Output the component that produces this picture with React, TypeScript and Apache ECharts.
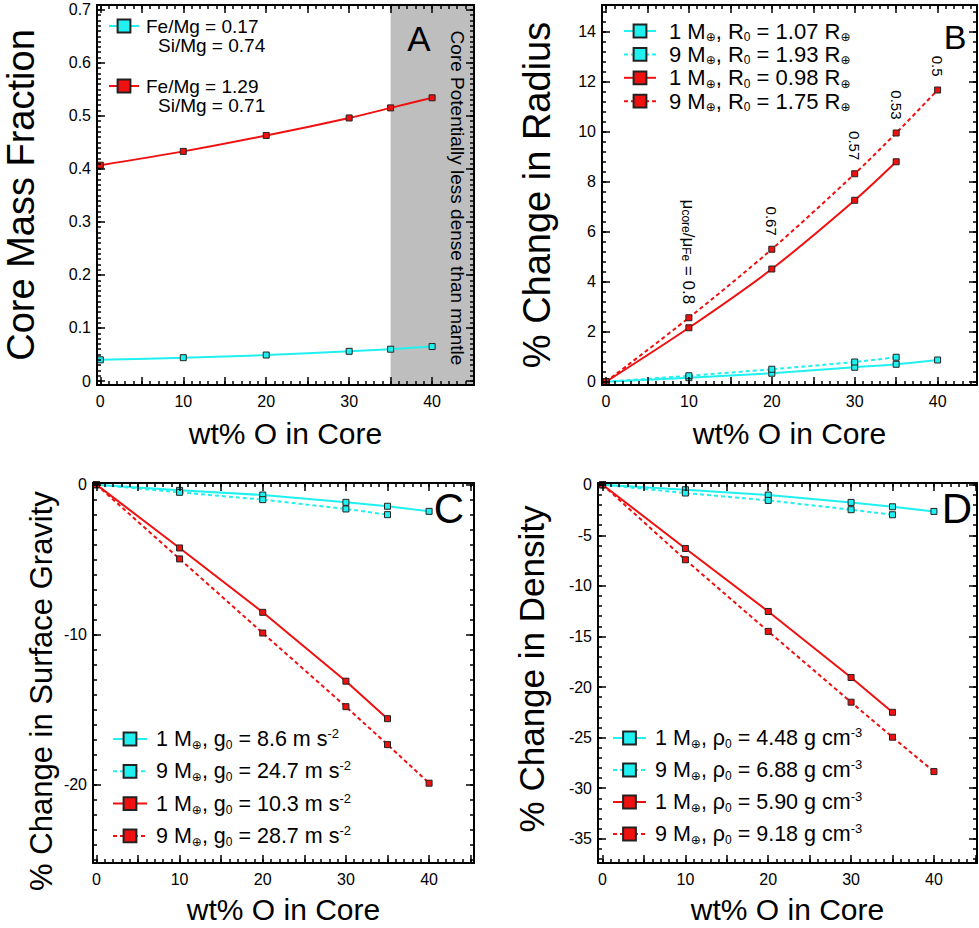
import React, { useEffect, useRef } from 'react';
import * as echarts from 'echarts';

const FONT = '"Liberation Sans", Arial, Helvetica, "DejaVu Sans", sans-serif';
const CYAN = '#20f0f0';
const RED = '#f01010';

// ---------- Panel A: core mass fraction ----------
const xA = [0, 10, 20, 30, 35, 40];
const aLowFe = [0.04, 0.044, 0.049, 0.056, 0.06, 0.065];
const aHighFe = [0.407, 0.433, 0.463, 0.496, 0.515, 0.534];
const aFeMg = ['0.17', '1.29'];
const aSiMg = ['0.74', '0.71'];
const aShadeStart = 35;
const aShadeText = 'Core Potentially less dense than mantle';
const aYLabels = [0, 0.1, 0.2, 0.3, 0.4, 0.5, 0.6, 0.7];
const xLabels = [0, 10, 20, 30, 40];

// ---------- Panel B: % change in radius ----------
const xLong = [0, 10, 20, 30, 35, 40];
const xShort = [0, 10, 20, 30, 35];
const bCyan1 = [0, 0.16, 0.34, 0.58, 0.7, 0.87];
const bCyan9 = [0, 0.24, 0.5, 0.79, 0.98];
const bRed1 = [0, 2.16, 4.51, 7.26, 8.8];
const bRed9 = [0, 2.56, 5.3, 8.32, 9.95, 11.67];
const bRatioLabels = ['', '{m|μ}{s|core}{m|/μ}{s|Fe}{m| = 0.8}', '0.67', '0.57', '0.53', '0.5'];
const bMass = ['1', '9', '1', '9'];
const bR0 = ['1.07', '1.93', '0.98', '1.75'];
const bYLabels = [0, 2, 4, 6, 8, 10, 12, 14];

// ---------- Panel C: % change in surface gravity ----------
const cCyan1 = [0, -0.38, -0.69, -1.18, -1.44, -1.78];
const cCyan9 = [0, -0.51, -1.0, -1.62, -2.0];
const cRed1 = [0, -4.22, -8.51, -13.1, -15.6];
const cRed9 = [0, -4.95, -9.89, -14.8, -17.33, -19.9];
const cG0 = ['8.6', '24.7', '10.3', '28.7'];
const cYLabels = [0, -10, -20];

// ---------- Panel D: % change in density ----------
const dCyan1 = [0, -0.49, -1.02, -1.75, -2.18, -2.64];
const dCyan9 = [0, -0.82, -1.55, -2.47, -2.97];
const dRed1 = [0, -6.3, -12.53, -19.06, -22.5];
const dRed9 = [0, -7.42, -14.5, -21.5, -24.96, -28.36];
const dRho0 = ['4.48', '6.88', '5.90', '9.18'];
const dYLabels = [0, -5, -10, -15, -20, -25, -30, -35];

function steps(a: number, b: number, s: number): number[] {
  const out: number[] = [];
  const n = Math.floor((b - a) / s + 1e-9);
  for (let i = 0; i <= n; i++) out.push(Math.round((a + i * s) * 1e4) / 1e4);
  return out;
}

function buildAxes(
  dim: 'x' | 'y',
  gridIndex: number,
  min: number,
  max: number,
  labelVals: number[],
  majorVals: number[],
  minorVals: number[],
  fmt: (v: number) => string,
  name: string,
  nameGap: number,
  nameFont: number,
  namePadding: number[] = [0, 0, 0, 0]
) {
  const base: any = {
    type: 'value',
    gridIndex,
    min,
    max,
    splitLine: { show: false },
    z: 10,
    silent: true,
  };
  const posA = dim === 'x' ? 'bottom' : 'left';
  const posB = dim === 'x' ? 'top' : 'right';
  const line = { show: true, onZero: false, lineStyle: { color: '#000', width: 2 } };
  const noLine = { show: false, onZero: false };
  const tick = (vals: number[], len: number) => ({
    show: true,
    inside: true,
    length: len,
    lineStyle: { color: '#000', width: 1.5 },
    customValues: vals,
  });
  return [
    {
      ...base,
      position: posA,
      axisLine: line,
      axisTick: tick(majorVals, 8),
      axisLabel: {
        show: true,
        customValues: labelVals,
        formatter: fmt,
        fontSize: 16,
        color: '#000',
        fontFamily: FONT,
        margin: dim === 'x' ? 8 : 6,
      },
      name,
      nameLocation: 'middle',
      nameGap,
      nameTextStyle: { fontSize: nameFont, fontFamily: FONT, color: '#000', padding: namePadding },
    },
    { ...base, position: posB, axisLine: line, axisTick: tick(majorVals, 8), axisLabel: { show: false } },
    { ...base, position: posA, axisLine: noLine, axisTick: tick(minorVals, 4), axisLabel: { show: false } },
    { ...base, position: posB, axisLine: noLine, axisTick: tick(minorVals, 4), axisLabel: { show: false } },
  ];
}

function mkLine(name: string, xs: number[], ys: number[], color: string, dashed: boolean, panel: number, smooth: boolean | number, extra: any = {}) {
  return {
    type: 'line',
    name,
    xAxisIndex: panel * 4,
    yAxisIndex: panel * 4,
    data: xs.slice(0, ys.length).map((x, i) => [x, ys[i]]),
    symbol: 'rect',
    symbolSize: 6,
    smooth,
    z: 3,
    lineStyle: { color, width: 2, type: dashed ? [4, 3] : 'solid' },
    itemStyle: { color, borderColor: '#222', borderWidth: 1 },
    emphasis: { disabled: true },
    ...extra,
  };
}

const legendText: Record<string, string> = {};
aFeMg.forEach((fe, i) => {
  legendText['A' + i] = `{t|Fe/Mg = ${fe}}\n{i|Si/Mg = ${aSiMg[i]}}`;
});
bMass.forEach((m, i) => {
  legendText['B' + i] = `{t|${m} M}{s|⊕}{t|, R}{s|0}{t| = ${bR0[i]} R}{s|⊕}`;
});
bMass.forEach((m, i) => {
  legendText['C' + i] = `{t|${m} M}{s|⊕}{t|, g}{s|0}{t| = ${cG0[i]} m s}{p|-2}`;
});
bMass.forEach((m, i) => {
  legendText['D' + i] = `{t|${m} M}{s|⊕}{t|, ρ}{s|0}{t| = ${dRho0[i]} g cm}{p|-3}`;
});

function richFor(size: number) {
  return {
    t: { fontSize: size, lineHeight: 24, fontFamily: FONT, color: '#000' },
    s: { fontSize: 12, lineHeight: 12, verticalAlign: 'bottom', fontFamily: FONT, color: '#000' },
    p: { fontSize: 13, lineHeight: 12, verticalAlign: 'top', fontFamily: FONT, color: '#000' },
  };
}

function mkLegend(names: string[], left: number, top: number, gap: number, iw: number, size: number, padLeft: number, extra: any = {}) {
  return {
    orient: 'vertical',
    left,
    top,
    padding: 0,
    itemGap: gap,
    itemWidth: iw,
    itemHeight: 16,
    selectedMode: false,
    data: names,
    formatter: (n: string) => legendText[n],
    textStyle: { fontFamily: FONT, color: '#000', padding: [0, 0, 0, padLeft], rich: richFor(size) },
    ...extra,
  };
}

const fmtA = (v: number) => (v === 0 ? '0' : v.toFixed(1));
const fmtN = (v: number) => String(v);

const xMajor = steps(0, 45, 5);
const xMinor = steps(0, 45, 1);

const option: any = {
  animation: false,
  backgroundColor: '#fff',
  grid: [
    { left: 97, top: 5, width: 377, height: 380 },
    { left: 602, top: 5, width: 375, height: 380 },
    { left: 93, top: 483, width: 381, height: 380 },
    { left: 598, top: 483, width: 379, height: 380 },
  ],
  xAxis: [
    ...buildAxes('x', 0, -0.4, 45.05, xLabels, xMajor, xMinor, fmtN, 'wt% O in Core', 33, 30),
    ...buildAxes('x', 1, -0.48, 44.75, xLabels, xMajor, xMinor, fmtN, 'wt% O in Core', 33, 30),
    ...buildAxes('x', 2, -0.41, 45.4, xLabels, xMajor, xMinor, fmtN, 'wt% O in Core', 31, 30),
    ...buildAxes('x', 3, -0.55, 45.2, xLabels, xMajor, xMinor, fmtN, 'wt% O in Core', 31, 30),
  ],
  yAxis: [
    ...buildAxes('y', 0, -0.0075, 0.709, aYLabels, aYLabels, steps(0, 0.7, 0.01), fmtA, 'Core Mass Fraction', 57, 38),
    ...buildAxes('y', 1, -0.13, 15.07, bYLabels, bYLabels, steps(0, 15, 0.4), fmtN, '% Change in Radius', 46, 38),
    ...buildAxes('y', 2, -25.22, 0.11, cYLabels, cYLabels, steps(-25, 0, 1), fmtN, '% Change in Surface Gravity', 36, 31, [0, 36, 0, 0]),
    ...buildAxes('y', 3, -37.4, 0.17, dYLabels, dYLabels, steps(-37, 0, 1), fmtN, '% Change in Density', 49, 35, [0, 0, 0, 8]),
  ],
  legend: [
    mkLegend(['A0', 'A1'], 108, 16.5, 22, 30, 19, 2, {
      textStyle: {
        fontFamily: FONT,
        color: '#000',
        padding: [19, 0, 0, 2],
        rich: {
          t: { fontSize: 19, lineHeight: 19, fontFamily: FONT, color: '#000' },
          i: { fontSize: 19, lineHeight: 19, padding: [0, 0, 0, 12], fontFamily: FONT, color: '#000' },
        },
      },
    }),
    mkLegend(['B0', 'B1', 'B2', 'B3'], 623, 20, 0.4, 32, 22, 8),
    mkLegend(['C0', 'C1', 'C2', 'C3'], 112, 727, 8.3, 34, 21.5, 4),
    mkLegend(['D0', 'D1', 'D2', 'D3'], 612, 726, 8, 33, 21.5, 4),
  ],
  graphic: [
    { type: 'text', x: 419, y: 38, z: 20, silent: true, style: { text: 'A', fontSize: 35, fontFamily: FONT, fill: '#000', align: 'center', verticalAlign: 'middle' } },
    { type: 'text', x: 955, y: 37, z: 20, silent: true, style: { text: 'B', fontSize: 34, fontFamily: FONT, fill: '#000', align: 'center', verticalAlign: 'middle' } },
    { type: 'text', x: 449, y: 508, z: 20, silent: true, style: { text: 'C', fontSize: 42, fontFamily: FONT, fill: '#000', align: 'center', verticalAlign: 'middle' } },
    { type: 'text', x: 957, y: 508, z: 20, silent: true, style: { text: 'D', fontSize: 42, fontFamily: FONT, fill: '#000', align: 'center', verticalAlign: 'middle' } },
    {
      type: 'text',
      x: 457,
      y: 198,
      rotation: -Math.PI / 2,
      z: 20,
      silent: true,
      style: { text: aShadeText, fontSize: 19, fontFamily: FONT, fill: '#000', align: 'center', verticalAlign: 'middle' },
    },
  ],
  series: [
    {
      type: 'line',
      xAxisIndex: 0,
      yAxisIndex: 0,
      data: [],
      z: 1,
      silent: true,
      markArea: {
        silent: true,
        itemStyle: { color: '#bebebe' },
        data: [[{ xAxis: aShadeStart }, { xAxis: 45.05 }]],
      },
    },
    mkLine('A0', xA, aLowFe, CYAN, false, 0, 0.3),
    mkLine('A1', xA, aHighFe, RED, false, 0, 0.3),

    mkLine('B0', xLong, bCyan1, CYAN, false, 1, 0.3),
    mkLine('B1', xShort, bCyan9, CYAN, true, 1, 0.3),
    mkLine('B2', xShort, bRed1, RED, false, 1, 0.3),
    mkLine('B3', xLong, bRed9, RED, true, 1, 0.3, {
      label: {
        show: true,
        position: 'top',
        distance: 6,
        rotate: -90,
        align: 'right',
        verticalAlign: 'middle',
        offset: [-4, 0],
        fontSize: 15,
        fontFamily: FONT,
        color: '#000',
        formatter: (p: any) => bRatioLabels[p.dataIndex],
        rich: {
          m: { fontSize: 17, fontFamily: FONT, color: '#000', lineHeight: 18 },
          s: { fontSize: 12, fontFamily: FONT, color: '#000', lineHeight: 12, verticalAlign: 'bottom' },
        },
      },
    }),

    mkLine('C0', xLong, cCyan1, CYAN, false, 2, false),
    mkLine('C1', xShort, cCyan9, CYAN, true, 2, false),
    mkLine('C2', xShort, cRed1, RED, false, 2, false),
    mkLine('C3', xLong, cRed9, RED, true, 2, false),

    mkLine('D0', xLong, dCyan1, CYAN, false, 3, false),
    mkLine('D1', xShort, dCyan9, CYAN, true, 3, false),
    mkLine('D2', xShort, dRed1, RED, false, 3, false),
    mkLine('D3', xLong, dRed9, RED, true, 3, false),
  ],
};

export default function App() {
  const ref = useRef<HTMLDivElement>(null);
  useEffect(() => {
    if (!ref.current) return;
    const chart = echarts.init(ref.current, null, { renderer: 'svg' });
    chart.setOption(option);
    return () => chart.dispose();
  }, []);
  return (
    <div
      ref={ref}
      style={{ position: 'fixed', left: 0, top: 0, width: 979, height: 928, background: '#fff' }}
    />
  );
}
